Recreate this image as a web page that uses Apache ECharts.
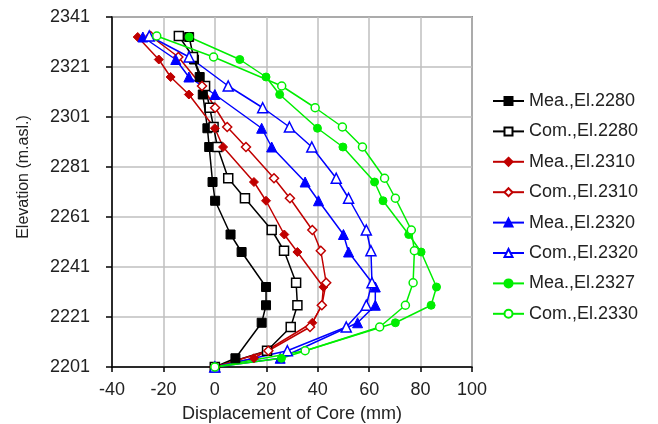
<!DOCTYPE html>
<html>
<head>
<meta charset="utf-8">
<script src="https://cdn.jsdelivr.net/npm/echarts@6/dist/echarts.min.js"></script>
<style>
  html, body { margin: 0; padding: 0; background: #fff; }
  #main { width: 658px; height: 424px; }
</style>
</head>
<body>
<div id="main"></div>
<script>
// elevations of the measured / computed points (m.asl.)
var meaElev = [2333, 2324, 2317, 2310, 2296.5, 2289, 2275, 2267.5, 2254, 2247, 2233, 2225.7, 2218.7, 2204.5, 2201];
var comElev = [2333.4, 2325, 2313.4, 2304.7, 2297, 2289, 2276.5, 2268.5, 2255.8, 2247.5, 2234.7, 2225.7, 2217, 2207.5, 2201];

// displacement of core (mm)
var mea2280 = [-10, -8.1, -5.9, -4.7, -2.9, -2.2, -0.9, 0.1, 6.1, 10.4, 19.9, 19.9, 18.2, 8.0, 0];
var com2280 = [-14, -8.5, -3.8, -2.0, -0.5, 1.0, 5.2, 11.7, 22.1, 26.9, 31.6, 32.1, 29.5, 20.3, 0];
var mea2310 = [-30, -21.8, -17.2, -10.1, 0, 3.2, 15.2, 19.9, 27, 32.1, 42.2, 41.6, 37.9, 15.2, 0];
var com2310 = [-25, -14.2, -5, 0.1, 4.8, 12.1, 23, 29.2, 37.9, 41.2, 43.3, 41.6, 37, 20.8, 0];
var mea2320 = [-28, -15.2, -10.1, 0, 18.2, 22.1, 35.1, 40.3, 50, 52, 62.4, 62.4, 55.5, 25.4, 0];
var com2320 = [-25.5, -10, 5.2, 18.6, 29, 37.7, 47.2, 52, 58.9, 60.7, 61.1, 58.9, 51.1, 28.2, 0];
var mea2327 = [-10, 9.7, 19.9, 25.2, 39.9, 49.8, 62.1, 65.4, 75.4, 80.2, 86.2, 84.1, 70.2, 25.9, 0];
var com2330 = [-22.6, -0.5, 26, 39, 49.6, 57.4, 66, 70.2, 76.4, 77.6, 77.1, 74.1, 64.1, 35.1, 0];

var seriesNames = ['Mea.,El.2280', 'Com.,El.2280', 'Mea.,El.2310', 'Com.,El.2310',
                   'Mea.,El.2320', 'Com.,El.2320', 'Mea.,El.2327', 'Com.,El.2330'];

var FONT = 'Liberation Sans, Arial, sans-serif';

function pairs(xs, ys) {
    var out = [];
    for (var i = 0; i < xs.length; i++) out.push([xs[i], ys[i]]);
    return out;
}

function makeSeries(name, xs, elev, color, symbol, size, open) {
    return {
        name: name,
        type: 'line',
        data: pairs(xs, elev),
        symbol: symbol,
        symbolSize: size,
        showAllSymbol: true,
        lineStyle: { color: color, width: 1.5 },
        itemStyle: open
            ? { color: '#ffffff', borderColor: color, borderWidth: 1.5 }
            : { color: color, borderColor: color, borderWidth: 1 },
        emphasis: { disabled: true }
    };
}

var myChart = echarts.init(document.getElementById('main'));
var option = {
    animation: false,
    backgroundColor: '#ffffff',
    grid: {
        left: 112, right: 186, top: 17, bottom: 57,
        outerBoundsMode: 'none',
        containLabel: false,
        show: true, borderColor: '#404040', borderWidth: 1.5
    },
    legend: {
        orient: 'vertical',
        left: 487,
        top: 86,
        itemWidth: 31,
        itemHeight: 10,
        itemGap: 10.4,
        textStyle: { fontFamily: FONT, fontSize: 18, color: '#222', lineHeight: 20 },
        data: seriesNames
    },
    xAxis: {
        type: 'value',
        min: -40, max: 100, interval: 20,
        name: 'Displacement of Core (mm)',
        nameLocation: 'middle',
        nameGap: 38,
        nameTextStyle: { fontFamily: FONT, fontSize: 18, color: '#222' },
        axisLine: { show: true, onZero: false, lineStyle: { color: '#000', width: 1.5 } },
        axisTick: { show: true, inside: false, length: 5, lineStyle: { color: '#000', width: 1.5 } },
        axisLabel: { fontFamily: FONT, fontSize: 18, color: '#222', margin: 14 },
        splitLine: { show: true, lineStyle: { color: '#bfbfbf', width: 1.5 } }
    },
    yAxis: {
        type: 'value',
        min: 2201, max: 2341, interval: 20,
        name: 'Elevation (m.asl.)',
        nameLocation: 'middle',
        nameGap: 80,
        nameTextStyle: { fontFamily: FONT, fontSize: 16, color: '#222', padding: [0, 0, 0, 30] },
        axisLine: { show: true, onZero: false, lineStyle: { color: '#000', width: 1.5 } },
        axisTick: { show: true, inside: false, length: 6, lineStyle: { color: '#000', width: 1.5 } },
        axisLabel: {
            fontFamily: FONT, fontSize: 18, color: '#222', margin: 22,
            formatter: function (v) { return String(v); }
        },
        splitLine: { show: true, lineStyle: { color: '#bfbfbf', width: 1.5 } }
    },
    series: [
        makeSeries(seriesNames[0], mea2280, meaElev, '#000000', 'rect', 9, false),
        makeSeries(seriesNames[1], com2280, comElev, '#000000', 'rect', 9, true),
        makeSeries(seriesNames[2], mea2310, meaElev, '#c00000', 'diamond', 9, false),
        makeSeries(seriesNames[3], com2310, comElev, '#c00000', 'diamond', 9, true),
        makeSeries(seriesNames[4], mea2320, meaElev, '#0000ff', 'triangle', 10, false),
        makeSeries(seriesNames[5], com2320, comElev, '#0000ff', 'triangle', 10, true),
        makeSeries(seriesNames[6], mea2327, meaElev, '#00ee00', 'circle', 8, false),
        makeSeries(seriesNames[7], com2330, comElev, '#00ee00', 'circle', 8, true)
    ]
};
myChart.setOption(option);
</script>
</body>
</html>
